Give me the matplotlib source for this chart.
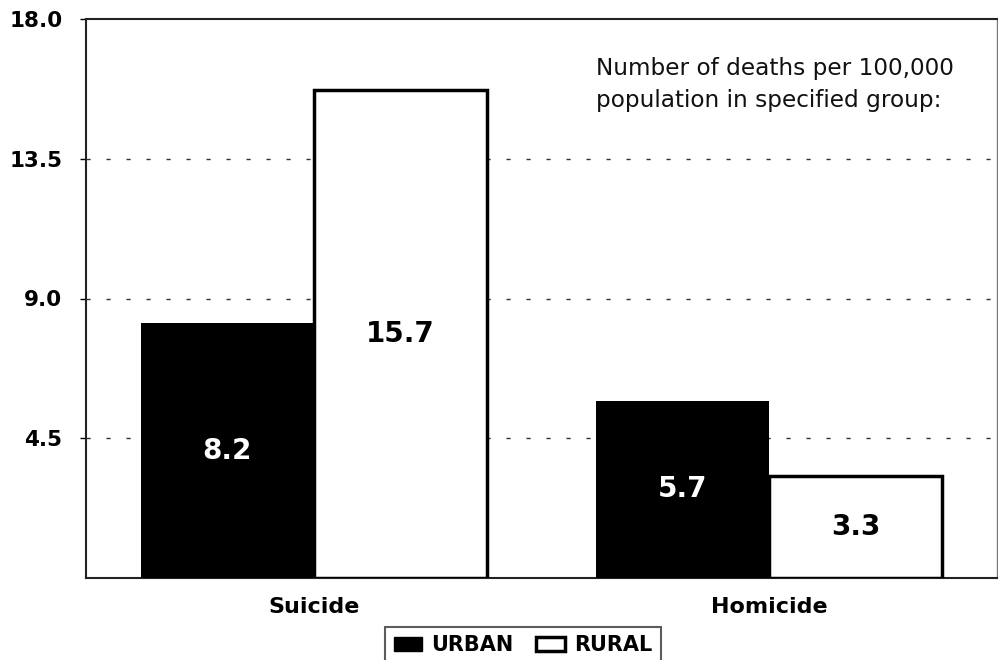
import matplotlib
matplotlib.use("Agg")
import matplotlib.pyplot as plt
import numpy as np
from matplotlib.patches import Patch

categories = ["Suicide", "Homicide"]
urban = [8.2, 5.7]
rural = [15.7, 3.3]
yticks = [4.5, 9.0, 13.5, 18.0]
ytick_labels = ["4.5", "9.0", "13.5", "18.0"]

plt.rcParams['font.family'] = ['DejaVu Sans']
fig = plt.figure(figsize=(9.98, 6.6), dpi=100)
ax = fig.add_axes([86/998, 82/660, 911/998, 559/660])

x = np.arange(len(categories))
w = 0.38
ax.bar(x - w/2, urban, w, color='black', edgecolor='black', linewidth=0, zorder=3)
ax.bar(x + w/2, rural, w, color='white', edgecolor='black', linewidth=2.5, zorder=3)

for xi, v in zip(x - w/2, urban):
    ax.text(xi, v/2, f"{v:.1f}", ha='center', va='center', color='white',
            fontsize=20, fontweight='bold', zorder=4)
for xi, v in zip(x + w/2, rural):
    ax.text(xi, v/2, f"{v:.1f}", ha='center', va='center', color='black',
            fontsize=20, fontweight='bold', zorder=4)

ax.set_xlim(-0.5, 1.5)
ax.set_ylim(0, 18)
ax.set_yticks(yticks)
ax.set_yticklabels(ytick_labels, fontsize=15.5, fontweight='bold')
ax.set_xticks(x)
ax.set_xticklabels(categories, fontsize=16, fontweight='bold')
ax.tick_params(axis='x', length=0, pad=14)
ax.tick_params(axis='y', length=4, width=1, pad=13, direction='out')

for t in [4.5, 9.0, 13.5]:
    ax.axhline(t, color='#333333', linewidth=1.0, linestyle=(0, (3.0, 11.4)), zorder=1)

for name, s in ax.spines.items():
    s.set_linewidth(1.5)
    s.set_color('#222222')
ax.spines['right'].set_linewidth(1.0)
ax.spines['right'].set_color('#777777')

ax.text(0.5595, 0.932, "Number of deaths per 100,000\npopulation in specified group:",
        transform=ax.transAxes, fontsize=16.7, ha='left', va='top', color='#111111',
        linespacing=1.5)

handles = [Patch(facecolor='black', edgecolor='black', label='URBAN'),
           Patch(facecolor='white', edgecolor='black', linewidth=2.5, label='RURAL')]
leg = fig.legend(handles=handles, loc='upper center', bbox_to_anchor=(523/998, 1 - 627/660),
                 ncol=2, frameon=True, fancybox=False, edgecolor='#333333',
                 prop={'weight': 'bold', 'size': 15}, handlelength=1.35, handleheight=0.62,
                 handletextpad=0.45, columnspacing=1.1, borderpad=0.4, borderaxespad=0)
leg.get_frame().set_linewidth(1.5)

fig.savefig("out.png", dpi=100)
